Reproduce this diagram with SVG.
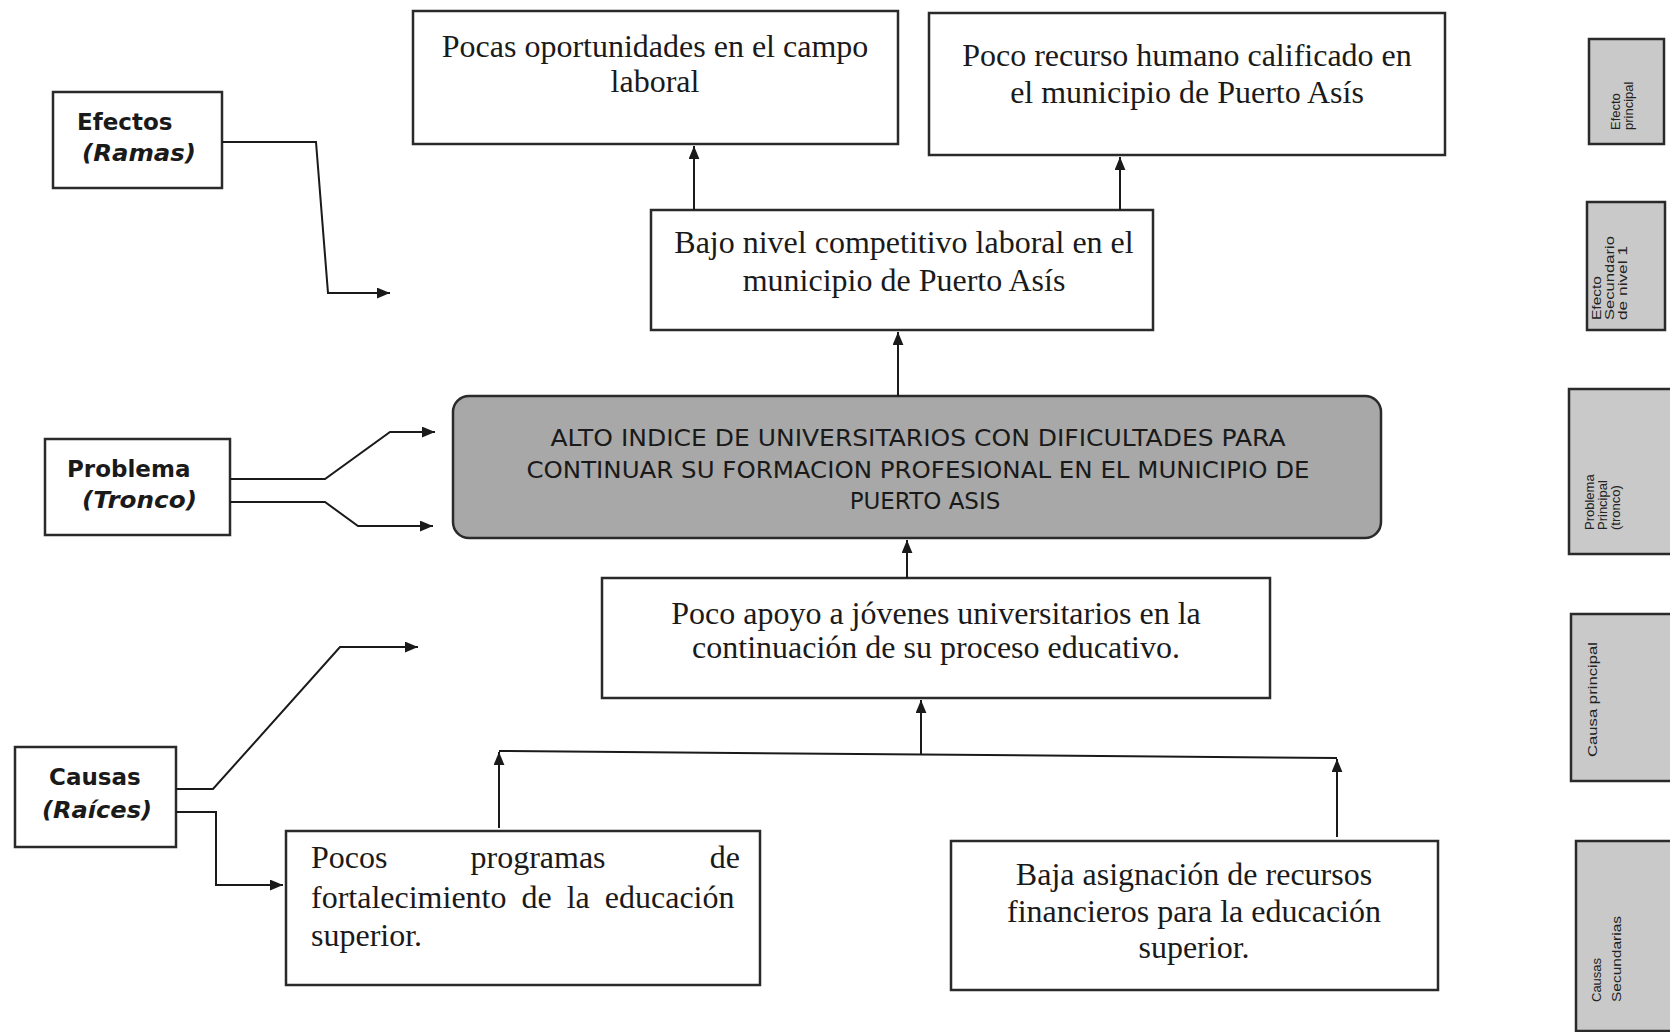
<svg xmlns="http://www.w3.org/2000/svg" width="1670" height="1032" viewBox="0 0 1670 1032">
<defs>
<marker id="ah" viewBox="0 0 12 10" markerUnits="userSpaceOnUse" markerWidth="13" markerHeight="11" refX="12" refY="5" orient="auto">
<path d="M0,0 L12,5 L0,10 z" fill="#1a1a1a"/>
</marker>
<style>
.box{fill:#ffffff;stroke:#2a2a2a;stroke-width:2.5}
.main{fill:#a8a8a8;stroke:#2a2a2a;stroke-width:2.5}
.leg{fill:#c9c9c9;stroke:#2a2a2a;stroke-width:2.5}
.serif{font-family:"Liberation Serif","Times New Roman",serif;font-size:32px;fill:#1a1a1a}
.mid{text-anchor:middle}
.cap{font-family:"DejaVu Sans",Verdana,sans-serif;font-size:23px;fill:#1a1a1a;text-anchor:middle}
.lab{font-family:"DejaVu Sans",Verdana,sans-serif;font-size:23px;font-weight:bold;fill:#1a1a1a}
.labi{font-style:italic}
.legt{font-family:"Liberation Sans",Arial,sans-serif;font-size:13px;fill:#222}
.conn path{fill:none;stroke:#1a1a1a;stroke-width:2}
</style>
</defs>
<rect width="1670" height="1032" fill="#ffffff"/>

<g id="efectos-label">
<rect class="box" x="53" y="92" width="169" height="96"/>
<text class="lab" x="77" y="130">Efectos</text>
<text class="lab labi" x="82" y="161" textLength="114" lengthAdjust="spacingAndGlyphs">(Ramas)</text>
</g>
<g id="problema-label">
<rect class="box" x="45" y="439" width="185" height="96"/>
<text class="lab" x="67" y="477">Problema</text>
<text class="lab labi" x="82" y="508" textLength="115" lengthAdjust="spacingAndGlyphs">(Tronco)</text>
</g>
<g id="causas-label">
<rect class="box" x="15" y="747" width="161" height="100"/>
<text class="lab" x="49" y="785">Causas</text>
<text class="lab labi" x="42" y="818" textLength="110" lengthAdjust="spacingAndGlyphs">(Raíces)</text>
</g>

<g id="efecto-1">
<rect class="box" x="413" y="11" width="485" height="133"/>
<text class="serif mid" x="655" y="57">Pocas oportunidades en el campo</text>
<text class="serif mid" x="655" y="92">laboral</text>
</g>
<g id="efecto-2">
<rect class="box" x="929" y="13" width="516" height="142"/>
<text class="serif mid" x="1187" y="66">Poco recurso humano calificado en</text>
<text class="serif mid" x="1187" y="103">el municipio de Puerto Asís</text>
</g>
<g id="efecto-secundario">
<rect class="box" x="651" y="210" width="502" height="120"/>
<text class="serif mid" x="904" y="253">Bajo nivel competitivo laboral en el</text>
<text class="serif mid" x="904" y="291">municipio de Puerto Asís</text>
</g>
<g id="problema-principal">
<rect class="main" x="453" y="396" width="928" height="142" rx="16" ry="16"/>
<text class="cap" x="918" y="446" textLength="735" lengthAdjust="spacingAndGlyphs">ALTO INDICE DE UNIVERSITARIOS CON DIFICULTADES PARA</text>
<text class="cap" x="918" y="478" textLength="783" lengthAdjust="spacingAndGlyphs">CONTINUAR SU FORMACION PROFESIONAL EN EL MUNICIPIO DE</text>
<text class="cap" x="925" y="509">PUERTO ASIS</text>
</g>
<g id="causa-principal">
<rect class="box" x="602" y="578" width="668" height="120"/>
<text class="serif mid" x="936" y="624">Poco apoyo a jóvenes universitarios en la</text>
<text class="serif mid" x="936" y="658">continuación de su proceso educativo.</text>
</g>
<g id="causa-1">
<rect class="box" x="286" y="831" width="474" height="154"/>
<text class="serif" x="311" y="868">Pocos</text>
<text class="serif mid" x="538" y="868">programas</text>
<text class="serif" x="740" y="868" text-anchor="end">de</text>
<text class="serif" x="311" y="908" word-spacing="7">fortalecimiento de la educación</text>
<text class="serif" x="311" y="946">superior.</text>
</g>
<g id="causa-2">
<rect class="box" x="951" y="841" width="487" height="149"/>
<text class="serif mid" x="1194" y="885">Baja asignación de recursos</text>
<text class="serif mid" x="1194" y="922">financieros para la educación</text>
<text class="serif mid" x="1194" y="958">superior.</text>
</g>

<g id="leg-efecto-principal">
<rect class="leg" x="1589" y="39" width="75" height="105"/>
<text class="legt" transform="translate(1620 130) rotate(-90)">Efecto</text>
<text class="legt" transform="translate(1633 130) rotate(-90)">principal</text>
</g>
<g id="leg-efecto-secundario">
<rect class="leg" x="1587" y="202" width="78" height="128"/>
<text class="legt" transform="translate(1601 320) rotate(-90)" textLength="44" lengthAdjust="spacingAndGlyphs">Efecto</text>
<text class="legt" transform="translate(1614 320) rotate(-90)" textLength="84" lengthAdjust="spacingAndGlyphs">Secundario</text>
<text class="legt" transform="translate(1627 320) rotate(-90)" textLength="74" lengthAdjust="spacingAndGlyphs">de nivel 1</text>
</g>
<g id="leg-problema">
<rect class="leg" x="1569" y="389" width="104" height="165"/>
<text class="legt" transform="translate(1594 530) rotate(-90)">Problema</text>
<text class="legt" transform="translate(1607 530) rotate(-90)">Principal</text>
<text class="legt" transform="translate(1620 530) rotate(-90)">(tronco)</text>
</g>
<g id="leg-causa-principal">
<rect class="leg" x="1571" y="614" width="102" height="167"/>
<text class="legt" transform="translate(1597 757) rotate(-90)" textLength="115" lengthAdjust="spacingAndGlyphs">Causa principal</text>
</g>
<g id="leg-causas-secundarias">
<rect class="leg" x="1576" y="841" width="97" height="190"/>
<text class="legt" transform="translate(1601 1002) rotate(-90)">Causas</text>
<text class="legt" transform="translate(1621 1002) rotate(-90)" textLength="86" lengthAdjust="spacingAndGlyphs">Secundarias</text>
</g>

<g id="connectors" class="conn">
<path d="M222,142 H316 L328,293 H390" marker-end="url(#ah)"/>
<path d="M230,479 H325 L390,432 H435" marker-end="url(#ah)"/>
<path d="M230,502 H325 L358,526 H433" marker-end="url(#ah)"/>
<path d="M176,789 H213 L340,647 H418" marker-end="url(#ah)"/>
<path d="M176,812 H216 V885 H283" marker-end="url(#ah)"/>
<path d="M694,210 V146" marker-end="url(#ah)"/>
<path d="M1120,210 V157" marker-end="url(#ah)"/>
<path d="M898,396 V332" marker-end="url(#ah)"/>
<path d="M907,578 V540" marker-end="url(#ah)"/>
<path d="M921,754 V700" marker-end="url(#ah)"/>
<path d="M499,751 L1337,758"/>
<path d="M499,828 V752" marker-end="url(#ah)"/>
<path d="M1337,837 V759" marker-end="url(#ah)"/>
</g>
</svg>
